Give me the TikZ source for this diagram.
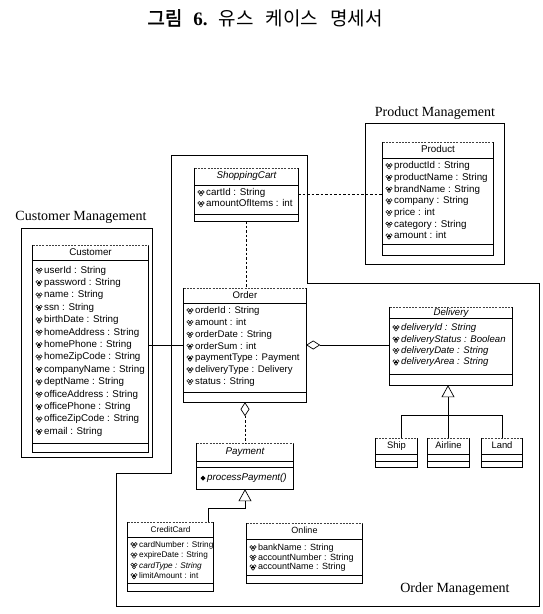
\documentclass[tikz,border=0pt]{standalone}
\usepackage{fontspec}
\setmainfont{Liberation Sans}
\newfontfamily\labelfont{Liberation Serif}
\newfontfamily\krfont[AutoFakeBold=2]{Noto Sans CJK KR}
\usetikzlibrary{arrows.meta,fit,calc}

\tikzset{
  pkg/.style={draw, line width=0.9pt},
  boxline/.style={line width=0.85pt},
  boxtop/.style={line width=0.6pt, dash pattern=on 2pt off 1.2pt, black!75},
  sepline/.style={line width=0.75pt},
  rowtext/.style={anchor=west, inner sep=0pt, text height=0.72em, text depth=0.2em},
  cname/.style={inner sep=0pt, text height=0.72em, text depth=0.2em},
  assoc/.style={line width=0.7pt},
  dep/.style={line width=0.7pt, dash pattern=on 2.5pt off 2pt},
  gen/.style={line width=0.75pt},
  agg/.style={{Diamond[open,length=14pt,width=9pt,line width=0.7pt]}-},
  inherit/.style={{Triangle[open,length=12pt,width=13pt,line width=0.7pt]}-},
  pkglabel/.style={font=\labelfont\fontsize{14}{14}\selectfont, inner sep=0pt},
  aicon/.pic={
    \draw[line width=0.45pt]
      (-1.7,-1) circle[radius=1.5pt]
      (1.7,-1) circle[radius=1.5pt]
      (0,1.6) circle[radius=1.5pt];
  },
}

% class frame: light top edge, solid sides and bottom
\newcommand\umlbox[5]{%
  \coordinate (#1-a) at (#2,#3);
  \coordinate (#1-b) at (#4,#5);
  \node[fit=(#1-a)(#1-b), inner sep=0pt] (#1) {};
  \draw[boxline] (#1.north west) -- (#1.south west) -- (#1.south east) -- (#1.north east);
  \draw[boxtop] (#1.north west) -- (#1.north east);
}
% compartment separator
\newcommand\sep[3]{\draw[sepline] (#1,#3) -- (#2,#3);}
% attribute rows: name, left x, first y, step, font, rows
\newcommand\attrs[6]{%
  \foreach \t [count=\i from 0] in {#6} {
    \pic at ({#2+6},{#3+\i*#4}) {aicon};
    \node[rowtext, font=#5] (#1-\i) at ({#2+11},{#3+\i*#4}) {\t};
  }}

\begin{document}
\begin{tikzpicture}[x=1pt,y=-1pt]
\useasboundingbox[fill=white] (0,0) rectangle (543,614);

% caption
\node[inner sep=0pt] (title) at (265,18)
  {\krfont\fontsize{19}{19}\selectfont{\bfseries 그림}\hspace{11pt}{\labelfont\bfseries 6.}\hspace{11pt}유스\hspace{12pt}케이스\hspace{12pt}명세서};

% packages
\draw[pkg] (21,228) rectangle (152,457);
\node[pkglabel] (custpkg) at (81,217) {Customer Management};
\draw[pkg] (365,123) rectangle (504,264);
\node[pkglabel] (prodpkg) at (435,113) {Product Management};
\draw[pkg] (171,155) -- (307,155) -- (307,283) -- (539,283) -- (539,606)
  -- (116,606) -- (116,473) -- (171,473) -- cycle;
\node[pkglabel] (ordpkg) at (455,589) {Order Management};

% Customer
\umlbox{customer}{33}{245}{148}{452}
\node[cname, font=\fontsize{9.8}{12}\selectfont] (customer-n) at (90.5,252.5) {Customer};
\sep{33}{148}{260}
\sep{33}{148}{443}
\attrs{customer}{33}{270.5}{12.4}{\fontsize{9.8}{12}\selectfont}{userId : String,password : String,name : String,ssn : String,birthDate : String,homeAddress : String,homePhone : String,homeZipCode : String,companyName : String,deptName : String,officeAddress : String,officePhone : String,officeZipCode : String,email : String}

% ShoppingCart
\umlbox{cart}{195}{168}{298}{221}
\node[cname, font=\itshape\fontsize{9.8}{12}\selectfont] (cart-n) at (246.5,176) {ShoppingCart};
\sep{195}{298}{185}
\sep{195}{298}{214}
\attrs{cart}{195}{193}{11}{\fontsize{9.8}{12}\selectfont}{cartId : String,amountOfItems : int}

% Product
\umlbox{product}{383}{142}{493}{255}
\node[cname, font=\fontsize{9.8}{12}\selectfont] (product-n) at (438,150) {Product};
\sep{383}{493}{158}
\sep{383}{493}{244}
\attrs{product}{383}{166}{11.7}{\fontsize{9.8}{12}\selectfont}{productId : String,productName : String,brandName : String,company : String,price : int,category : String,amount : int}

% Order
\umlbox{order}{184}{288}{306}{402}
\node[cname, font=\fontsize{9.6}{12}\selectfont] (order-n) at (245,295.5) {Order};
\sep{184}{306}{303}
\sep{184}{306}{392}
\attrs{order}{184}{311}{11.8}{\fontsize{9.6}{12}\selectfont}{orderId : String,amount : int,orderDate : String,orderSum : int,paymentType : Payment,deliveryType : Delivery,status : String}

% Delivery
\umlbox{delivery}{390}{307}{512}{385}
\node[cname, font=\itshape\fontsize{9.6}{12}\selectfont] (delivery-n) at (451,312.5) {Delivery};
\sep{390}{512}{318}
\sep{390}{512}{374}
\attrs{delivery}{390}{328}{11.4}{\itshape\fontsize{9.6}{12}\selectfont}{deliveryId : String,deliveryStatus : Boolean,deliveryDate : String,deliveryArea : String}

% delivery kinds
\umlbox{ship}{376}{438}{417}{467}
\node[cname, font=\fontsize{9.4}{12}\selectfont] (ship-n) at (396.5,446) {Ship};
\sep{376}{417}{454}\sep{376}{417}{461}
\umlbox{airline}{428}{438}{469}{467}
\node[cname, font=\fontsize{9.4}{12}\selectfont] (airline-n) at (448.5,446) {Airline};
\sep{428}{469}{454}\sep{428}{469}{461}
\umlbox{land}{482}{438}{522}{467}
\node[cname, font=\fontsize{9.4}{12}\selectfont] (land-n) at (502,446) {Land};
\sep{482}{522}{454}\sep{482}{522}{461}

% Payment
\umlbox{payment}{197}{443}{293}{489}
\node[cname, font=\itshape\fontsize{9.8}{12}\selectfont] (payment-n) at (245,452) {Payment};
\sep{197}{293}{461}
\sep{197}{293}{467}
\fill (203,475.5) -- (205.5,478) -- (203,480.5) -- (200.5,478) -- cycle;
\node[rowtext, font=\itshape\fontsize{9.8}{12}\selectfont] (payment-op) at (207,478) {processPayment()};

% CreditCard
\umlbox{credit}{128}{522}{213}{591}
\node[cname, font=\fontsize{8.2}{10}\selectfont] (credit-n) at (170.5,530) {CreditCard};
\sep{128}{213}{537}
\sep{128}{213}{583}
\attrs{credit}{128}{545}{10.3}{\fontsize{8.2}{10}\selectfont}{cardNumber : String,expireDate : String,{\itshape cardType : String},limitAmount : int}

% Online
\umlbox{online}{247}{523}{362}{583}
\node[cname, font=\fontsize{9}{10}\selectfont] (online-n) at (304.5,531) {Online};
\sep{247}{362}{539}
\sep{247}{362}{575}
\attrs{online}{247}{548}{9.6}{\fontsize{9}{10}\selectfont}{bankName : String,accountNumber : String,accountName : String}

% relations
\draw[assoc] (customer.east |- order.west) -- (order.west);
\draw[dep] (cart.south) -- (cart.south |- order.north);
\draw[dep] (cart.east) -- (cart.east -| product.west);
\draw[assoc, agg] (order.east) -- (order.east -| delivery.west);
\draw[dep, agg] (order.south) -- (payment.north);

\coordinate (dbar) at ($(delivery.south)+(-3,30)$);
\draw[gen, inherit] ($(delivery.south)+(-3,0)$) -- (dbar);
\draw[gen] (ship.north) ++(5,0) |- (dbar) -| (land.north);
\draw[gen] (airline.north) -- (airline.north |- dbar);

\coordinate (ccin) at ($(credit.north east)+(-5,0)$);
\draw[gen, inherit] (payment.south) -- ++(0,19) -| (ccin);
\end{tikzpicture}
\end{document}
